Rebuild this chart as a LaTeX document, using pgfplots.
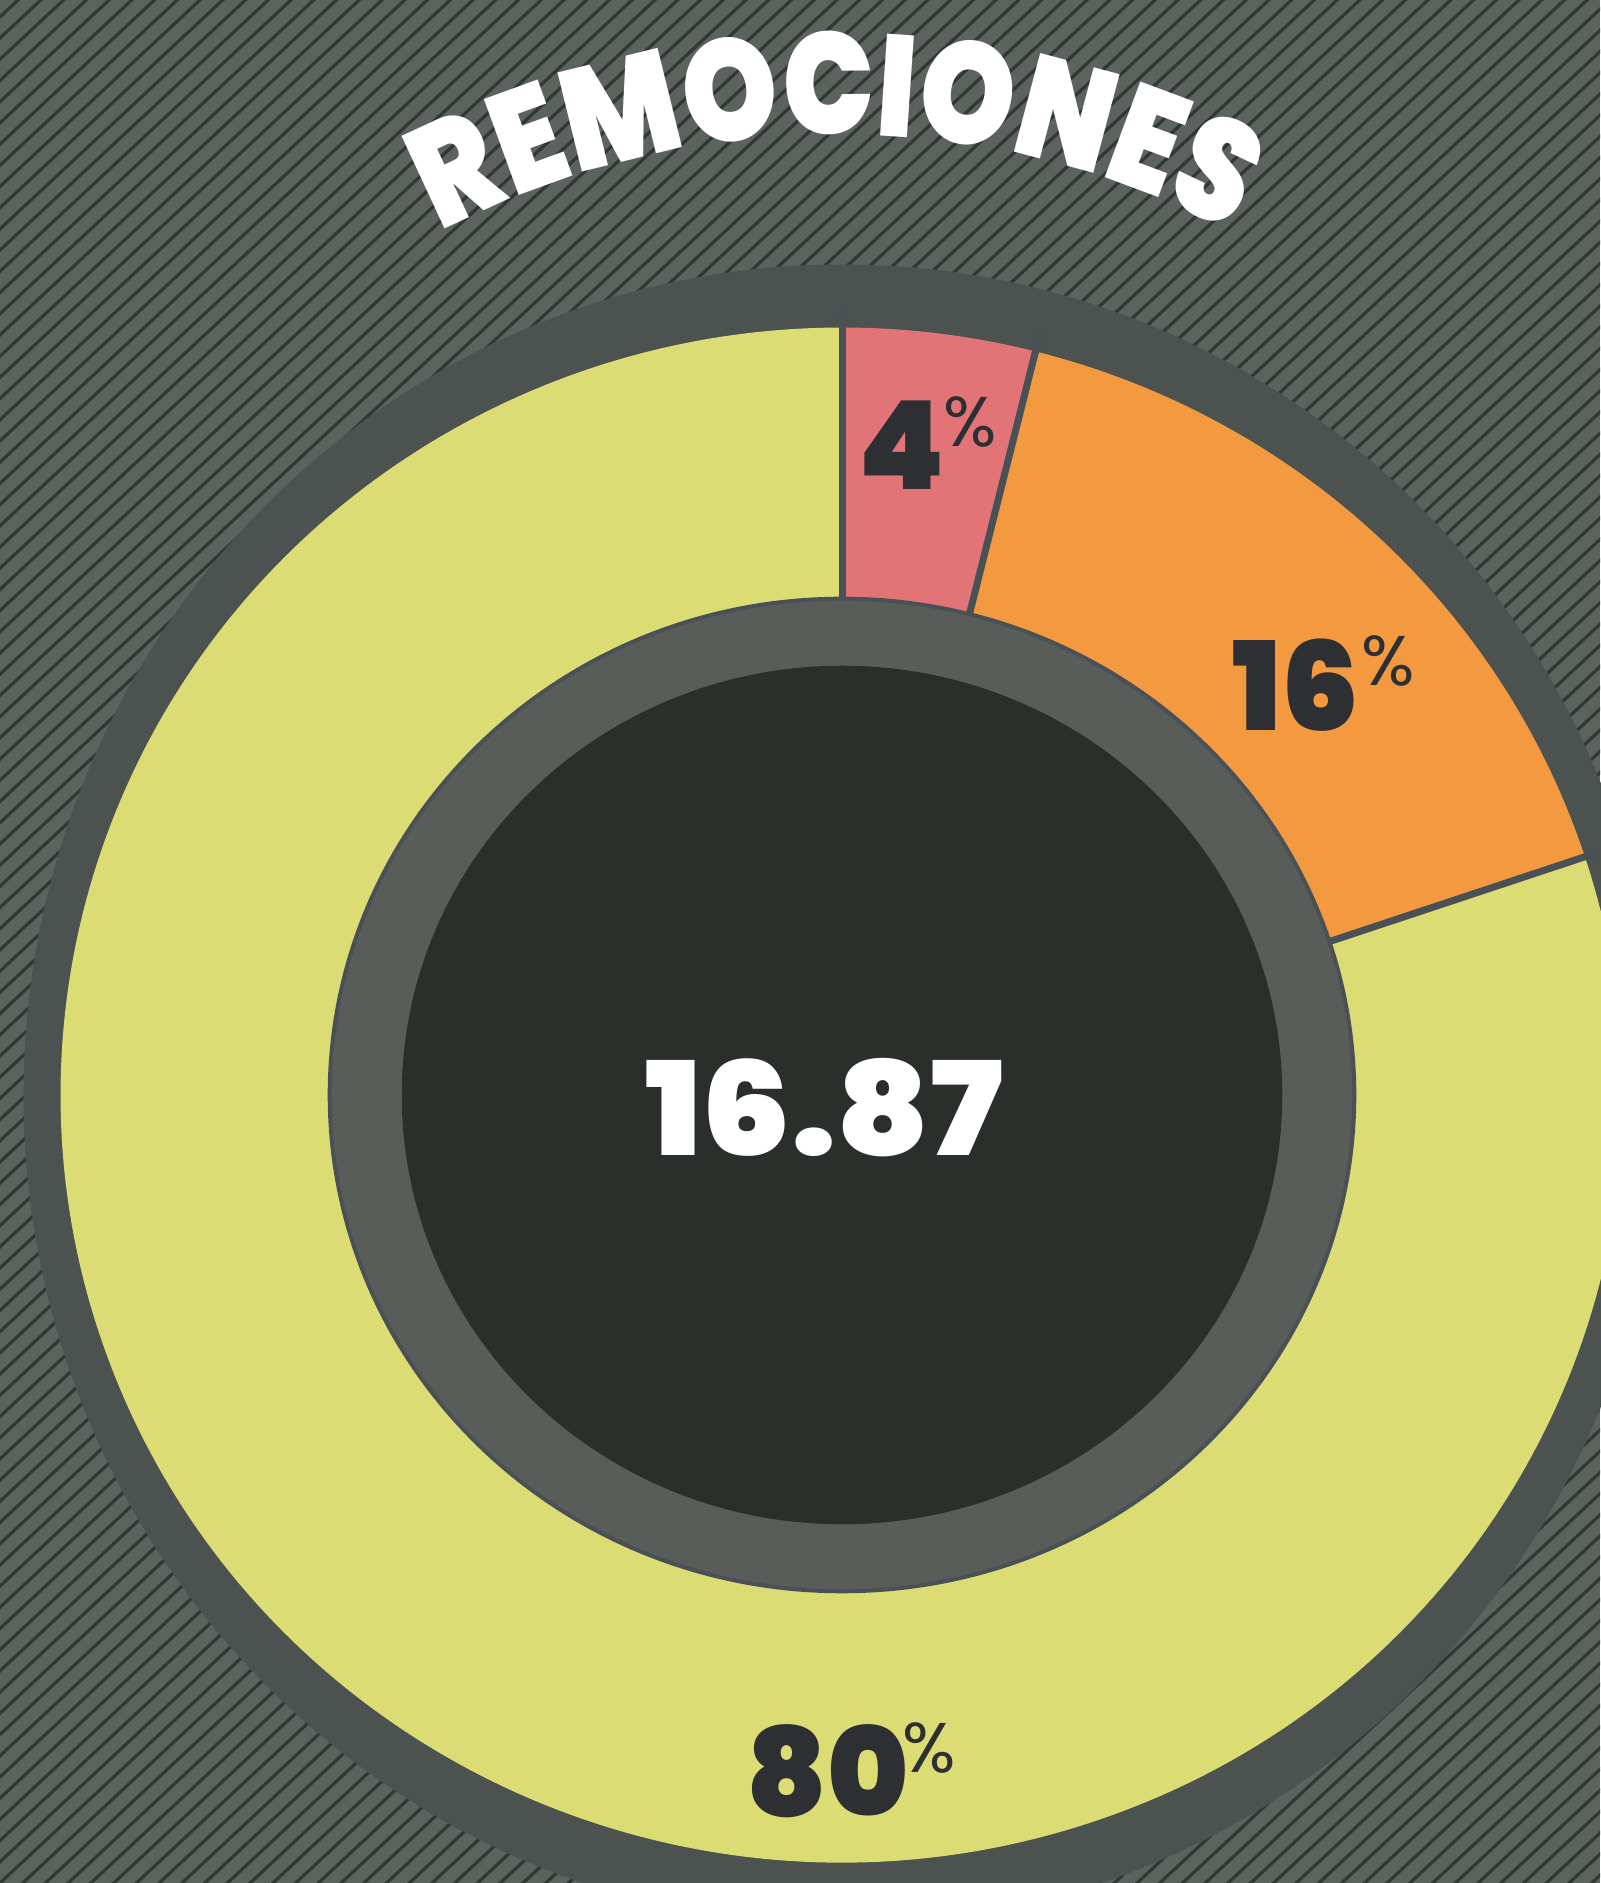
\documentclass[border=0pt]{standalone}
\usepackage{fontspec}
\setmainfont{Poppins}
\newfontfamily\heavy{Poppins Black}
\newfontfamily\heavywide{Poppins Black}[FakeStretch=1.09]
\newfontfamily\titlefont{Poppins Black}[FakeStretch=0.84]
\usepackage{pgfplots}
\usepackage{pgfplotstable}
\pgfplotsset{compat=1.18}
\usetikzlibrary{patterns.meta,decorations.text}
\definecolor{bg}{HTML}{5C635E}
\definecolor{stripe}{HTML}{313733}
\definecolor{ring}{HTML}{4C524F}
\definecolor{inring}{HTML}{585D5A}
\definecolor{core}{HTML}{2B2F2B}
\definecolor{cyel}{HTML}{DCDC75}
\definecolor{cpink}{HTML}{E27478}
\definecolor{corange}{HTML}{F39A40}
\definecolor{sep}{HTML}{4A5156}
\definecolor{lab}{HTML}{2D2F33}
\pgfplotstableread{
slice value
a 4
b 16
c 80
}\slices
\pgfplotstablegetelem{0}{value}\of\slices \let\vA\pgfplotsretval
\pgfplotstablegetelem{1}{value}\of\slices \let\vB\pgfplotsretval
\pgfplotstablegetelem{2}{value}\of\slices \let\vC\pgfplotsretval
\pgfmathsetmacro\aA{90}
\pgfmathsetmacro\aB{\aA-3.6*\vA}
\pgfmathsetmacro\aC{\aB-3.6*\vB}
\pgfmathsetmacro\aD{\aC-3.6*\vC}
\begin{document}%
\begin{tikzpicture}
\begin{axis}[x=0.01cm, y=0.01cm, xmin=0, xmax=1600, ymin=0, ymax=1883,
  hide axis, clip=false]
\addplot[draw=none] coordinates {(0,0) (1600,1883)};
\coordinate (bl) at (axis cs:0,0);
\coordinate (tr) at (axis cs:1600,1883);
\fill[bg] (axis cs:0,0) rectangle (axis cs:1600,1883);
\fill[pattern={Lines[angle=43,distance=0.155cm,line width=0.032cm]}, pattern color=stripe]
  (axis cs:0,0) rectangle (axis cs:1600,1883);
\begin{scope}[shift={(axis cs:842,788)}]
  \fill[ring] (0,0) ellipse[x radius=8.18cm, y radius=8.30cm];
  \fill[cpink] (\aA:7.81cm and 7.67cm) arc[start angle=\aA, end angle=\aB, x radius=7.81cm, y radius=7.67cm]
     -- (\aB:5.12cm and 4.96cm) arc[start angle=\aB, end angle=\aA, x radius=5.12cm, y radius=4.96cm] -- cycle;
  \fill[corange] (\aB:7.81cm and 7.67cm) arc[start angle=\aB, end angle=\aC, x radius=7.81cm, y radius=7.67cm]
     -- (\aC:5.12cm and 4.96cm) arc[start angle=\aC, end angle=\aB, x radius=5.12cm, y radius=4.96cm] -- cycle;
  \fill[cyel] (\aC:7.81cm and 7.67cm) arc[start angle=\aC, end angle=\aD, x radius=7.81cm, y radius=7.67cm]
     -- (\aD:5.12cm and 4.96cm) arc[start angle=\aD, end angle=\aC, x radius=5.12cm, y radius=4.96cm] -- cycle;
  \draw[sep, line width=0.07cm] (\aA:5.12cm and 4.96cm) -- (\aA:7.95cm and 7.85cm);
  \draw[sep, line width=0.07cm] (\aB:5.12cm and 4.96cm) -- (\aB:7.95cm and 7.85cm);
  \draw[sep, line width=0.07cm] (\aC:5.12cm and 4.96cm) -- (\aC:7.95cm and 7.85cm);
  \fill[inring] (0,0) ellipse[x radius=5.12cm, y radius=4.96cm];
  \draw[sep, line width=0.04cm] (0,0) ellipse[x radius=5.12cm, y radius=4.96cm];
  \fill[core] (0,0) ellipse[x radius=4.40cm, y radius=4.29cm];
\end{scope}
\node[lab, font=\heavy\fontsize{35}{35}\selectfont] at (axis cs:902,1438) {4};
\node[lab, font=\fontsize{20}{20}\selectfont] at (axis cs:970,1461) {\%};
\node[lab, font=\heavy\fontsize{35}{35}\selectfont] at (axis cs:1296,1198) {16};
\node[lab, font=\fontsize{20}{20}\selectfont] at (axis cs:1388,1222) {\%};
\node[lab, font=\heavy\fontsize{35}{35}\selectfont] at (axis cs:828,112) {80};
\node[lab, font=\fontsize{20}{20}\selectfont] at (axis cs:929,135) {\%};
\node[white, font=\heavywide\fontsize{37}{37}\selectfont] at (axis cs:824,775) {16.87};
\path[decorate, decoration={text along path, text align=center, text color=white,
  text={|\titlefont\fontsize{41}{41}\selectfont|REMOCIONES}}]
  (axis cs:85.4,1297.6) arc[start angle=152, end angle=28, radius=8.49cm];
\end{axis}
\pgfresetboundingbox
\useasboundingbox (bl) rectangle (tr);
\end{tikzpicture}%
\end{document}
